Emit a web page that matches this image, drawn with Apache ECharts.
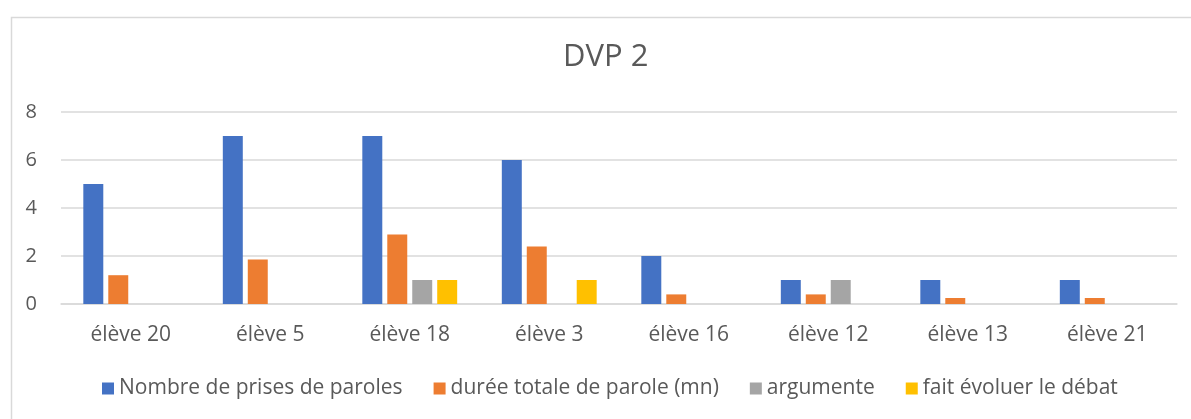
<!DOCTYPE html>
<html>
<head>
<meta charset="utf-8">
<script src="https://cdn.jsdelivr.net/npm/echarts@6/dist/echarts.min.js"></script>
<style>
  html, body { margin: 0; padding: 0; background: #fff; }
  #chart { width: 1191px; height: 419px; }
</style>
</head>
<body>
<div id="chart"></div>
<script>
  // données
  const eleves = ['élève 20', 'élève 5', 'élève 18', 'élève 3', 'élève 16', 'élève 12', 'élève 13', 'élève 21']
  const prisesParole = [5, 7, 7, 6, 2, 1, 1, 1]
  const dureeParole = [1.2, 1.85, 2.9, 2.4, 0.4, 0.4, 0.25, 0.25]
  const argumente = [0, 0, 1, 0, 0, 1, 0, 0]
  const faitEvoluer = [0, 0, 1, 1, 0, 0, 0, 0]

  const serieNames = ['Nombre de prises de paroles', 'durée totale de parole (mn)', 'argumente', 'fait évoluer le débat']
  const couleurs = ['#4472c4', '#ed7d31', '#a5a5a5', '#ffc000']

  const font = '"Open Sans", "Noto Sans", sans-serif'
  const textColor = '#595959'

  let myChart = echarts.init(document.getElementById('chart'))

  const makeSerie = (i, data) => ({
    name: serieNames[i],
    type: 'bar',
    barGap: '25%',
    barCategoryGap: '32%',
    itemStyle: { color: couleurs[i] },
    // les valeurs nulles ne sont pas dessinées
    data: data.map(v => (v === 0 ? null : v))
  })

  myChart.setOption({
    animation: false,
    textStyle: { fontFamily: font },
    graphic: [{
      type: 'rect',
      left: 9,
      top: 15,
      shape: { width: 1200, height: 420 },
      style: { fill: 'none', stroke: '#d9d9d9', lineWidth: 1.5 },
      silent: true
    }],
    title: {
      text: 'DVP 2',
      left: 558,
      top: 37,
      textStyle: { color: textColor, fontSize: 31, fontWeight: 'normal', fontFamily: font, lineHeight: 31 }
    },
    legend: {
      top: 373,
      left: 97,
      itemWidth: 12,
      itemHeight: 12,
      itemGap: 31,
      icon: 'rect',
      textStyle: { color: textColor, fontSize: 21, fontFamily: font, lineHeight: 20 },
      data: serieNames
    },
    grid: {
      left: 61,
      right: 14,
      top: 112,
      bottom: 115,
      containLabel: false
    },
    xAxis: {
      type: 'category',
      data: eleves,
      axisLine: { lineStyle: { color: '#d9d9d9', width: 1.5 } },
      axisTick: { show: false },
      axisLabel: { color: textColor, fontSize: 21, margin: 21, fontFamily: font, lineHeight: 20 }
    },
    yAxis: {
      type: 'value',
      min: 0,
      max: 8,
      interval: 2,
      axisLine: { show: false },
      axisTick: { show: false },
      axisLabel: { color: textColor, fontSize: 20, margin: 24, fontFamily: font },
      splitLine: { lineStyle: { color: '#d9d9d9', width: 1.5 } }
    },
    series: [
      makeSerie(0, prisesParole),
      makeSerie(1, dureeParole),
      makeSerie(2, argumente),
      makeSerie(3, faitEvoluer)
    ]
  })
</script>
</body>
</html>
